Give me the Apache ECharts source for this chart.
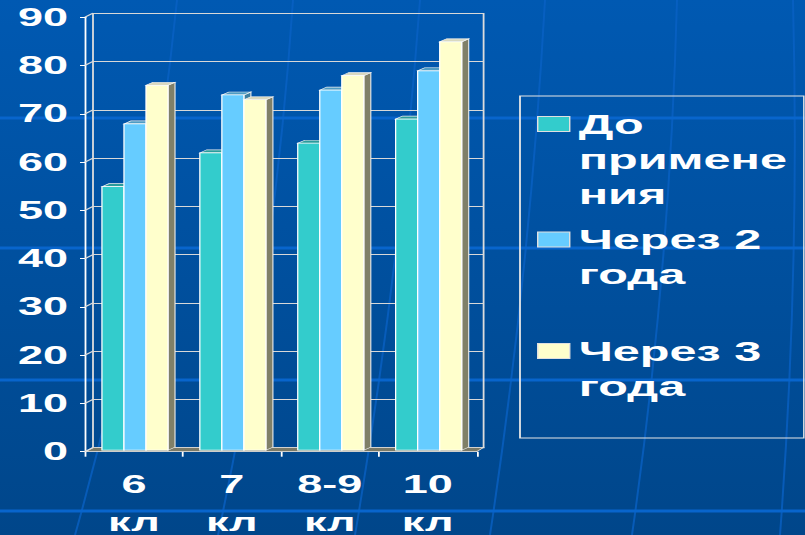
<!DOCTYPE html>
<html><head><meta charset="utf-8">
<script src="https://cdn.jsdelivr.net/npm/echarts@6/dist/echarts.min.js"></script>
<style>
html,body{margin:0;padding:0;width:805px;height:535px;overflow:hidden;}
body{position:relative;}
#bg{position:absolute;left:0;top:0;}
#chart{position:absolute;left:0;top:0;height:535px;transform-origin:0 0;}
</style></head>
<body>
<svg id="bg" width="805" height="535" xmlns="http://www.w3.org/2000/svg">
<defs><linearGradient id="g" x1="0" y1="0" x2="0" y2="1"><stop offset="0" stop-color="#0059b2"/><stop offset="1" stop-color="#00468a"/></linearGradient></defs>
<rect width="805" height="535" fill="url(#g)"/>
<g stroke="#0a62c6" stroke-width="2" fill="none" opacity="0.75">
<path d="M177,0 Q150,270 75,535"/><path d="M293,0 Q275,270 218,535"/><path d="M420,0 Q400,270 355,535"/>
<path d="M545,0 Q530,270 490,535"/><path d="M677,0 Q670,270 632,535"/><path d="M793,0 Q800,270 780,535"/>
</g>
<g stroke="#0865cc" stroke-width="3">
<line x1="0" y1="118" x2="805" y2="118"/><line x1="0" y1="248" x2="805" y2="248"/>
<line x1="0" y1="380" x2="805" y2="380"/><line x1="0" y1="511" x2="805" y2="511"/>
</g>
</svg>
<div id="chart"></div>
<script>
// ---- data ----
const categories = ['6 кл', '7 кл', '8-9 кл', '10 кл'];
const seriesNames = ['До применения', 'Через 2 года', 'Через 3 года'];
const legendLabels = ['До\nпримене\nния', 'Через 2\nгода', 'Через 3\nгода'];
const before = [55, 62, 64, 69];
const after2 = [68, 74, 75, 79];
const after3 = [76, 73, 78, 85];
const yTicks = [0, 10, 20, 30, 40, 50, 60, 70, 80, 90];

// ---- layout (horizontal stretch of the whole slide) ----
const K = 1.8;
const X = px => px / K;
const dom = document.getElementById('chart');
dom.style.width = (805 / K) + 'px';
dom.style.transform = 'scaleX(' + K + ')';

const FONT = '"Liberation Sans", Arial, sans-serif';
const colors = ['#33cccc', '#66ccff', '#ffffcc'];
const topColors = ['#2a9c9c', '#4e9cc4', '#d9d9c0'];
const sideColors = ['#227a7a', '#3d7fa0', '#808068'];
const DX = X(7), DY = 3;

function barRender(s) {
  return function (params, api) {
    const i = api.value(0), v = api.value(1);
    const base = api.coord([i, 0]);
    const top = api.coord([i, v]);
    const catW = api.size([1, 0])[0];
    const bw = catW * 0.225;
    const x0 = base[0] - 0.327 * catW + s * bw;
    const yb = base[1] - 1.5, yt = top[1] + 0.5;
    return {
      type: 'group', children: [
        { type: 'polygon', shape: { points: [[x0 + bw, yt], [x0 + bw + DX, yt - DY], [x0 + bw + DX, yb - DY], [x0 + bw, yb]] },
          style: { fill: sideColors[s], stroke: '#f0f0f0', lineWidth: 0.6 } },
        { type: 'polygon', shape: { points: [[x0, yt], [x0 + DX, yt - DY], [x0 + bw + DX, yt - DY], [x0 + bw, yt]] },
          style: { fill: topColors[s], stroke: '#f0f0f0', lineWidth: 0.6 } },
        { type: 'rect', shape: { x: x0, y: yt, width: bw, height: yb - yt },
          style: { fill: colors[s], stroke: '#ffffff', lineWidth: 0.7 } }
      ]
    };
  };
}

const seriesData = [before, after2, after3];
const LH = 35;
const legendTops = [36.5, 187, 298.5];

const chart = echarts.init(dom, null, { renderer: 'svg' });
chart.setOption({
  animation: false,
  backgroundColor: 'transparent',
  grid: [
    { left: X(85), right: X(805 - 477), top: 17.2, bottom: 535 - 451.7, outerBoundsMode: 'none', containLabel: false },
    { left: X(93), right: X(805 - 484), top: 13.5, bottom: 535 - 447.7, outerBoundsMode: 'none', containLabel: false,
      show: true, borderColor: '#dcdcdc', borderWidth: 1, backgroundColor: 'transparent' }
  ],
  xAxis: [
    { gridIndex: 0, type: 'category', data: categories,
      axisLine: { lineStyle: { color: '#ffffff', width: 1 } },
      axisTick: { show: true, length: 5, lineStyle: { color: '#ffffff' } },
      axisLabel: { color: '#ffffff', fontFamily: FONT, fontWeight: 'bold', fontSize: 25, lineHeight: 38,
        margin: 14, formatter: v => v.replace(' ', '\n') } },
    { gridIndex: 1, type: 'category', data: categories, show: false }
  ],
  yAxis: [
    { gridIndex: 0, type: 'value', min: 0, max: 90, interval: 10,
      axisLine: { show: true, lineStyle: { color: '#ffffff', width: 1 } },
      axisTick: { show: true, length: X(5), lineStyle: { color: '#ffffff' } },
      splitLine: { show: false },
      axisLabel: { color: '#ffffff', fontFamily: FONT, fontWeight: 'bold', fontSize: 25, margin: X(17),
        padding: [5, 0, 0, 0] } },
    { gridIndex: 1, type: 'value', min: 0, max: 90, interval: 10,
      axisLine: { show: false }, axisTick: { show: false }, axisLabel: { show: false },
      splitLine: { show: true, lineStyle: { color: '#d8d8d8', width: 1 } } }
  ],
  legend: seriesNames.map((n, j) => {
    const lines = legendLabels[j].split('\n').length;
    return {
      data: [n], orient: 'vertical', left: X(537), top: legendTops[j], padding: 0,
      itemWidth: X(32), itemHeight: 15, icon: 'rect',
      itemStyle: { borderColor: '#e0e0e0', borderWidth: 0.8 },
      // leading empty lines keep the first text line level with the key
      formatter: () => '\n'.repeat(lines - 1) + legendLabels[j],
      textStyle: { color: '#ffffff', fontFamily: FONT, fontWeight: 'bold', fontSize: 27, lineHeight: LH }
    };
  }),
  graphic: [
    { type: 'rect', shape: { x: X(520), y: 96, width: X(804 - 520), height: 342 },
      style: { fill: 'none', stroke: '#e6e6e6', lineWidth: 1 }, silent: true }
  ],
  series: [
    { type: 'custom', name: 'floor', xAxisIndex: 0, yAxisIndex: 0, silent: true, z: 1,
      data: [[0, 0]],
      renderItem: (params, api) => {
        const cs = params.coordSys;
        const y = api.coord([0, 0])[1];
        return { type: 'polygon', shape: { points: [[cs.x, y], [cs.x + cs.width, y], [cs.x + cs.width + X(7), y - 4.3], [cs.x + X(8), y - 4.3]] },
          style: { fill: '#7a7a68', stroke: '#e0e0e0', lineWidth: 0.7 } };
      } },
    { type: 'custom', name: 'wall', xAxisIndex: 0, yAxisIndex: 0, silent: true, z: 1,
      data: yTicks.map(v => [0, v]),
      renderItem: (params, api) => {
        const cs = params.coordSys;
        const y = api.coord([0, api.value(1)])[1];
        return { type: 'line', shape: { x1: cs.x, y1: y, x2: cs.x + X(8), y2: y - 4 },
          style: { stroke: '#dcdcdc', lineWidth: 1 } };
      } }
  ].concat(seriesNames.map((n, s) => ({
    type: 'custom', name: n, xAxisIndex: 0, yAxisIndex: 0, z: 3,
    itemStyle: { color: colors[s] },
    encode: { x: 0, y: 1 },
    data: seriesData[s].map((v, i) => [i, v]),
    renderItem: barRender(s)
  })))
});
</script>
</body></html>
